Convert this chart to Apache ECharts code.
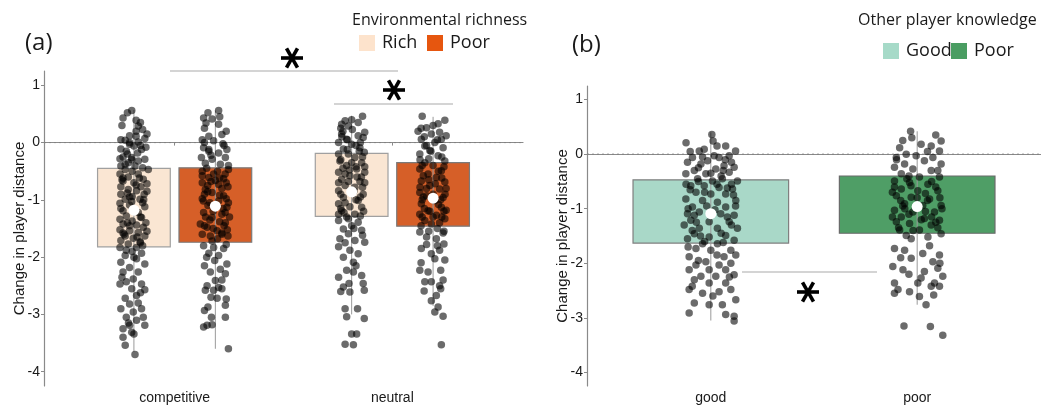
<!DOCTYPE html>
<html>
<head>
<meta charset="utf-8">
<style>
  html, body { margin: 0; padding: 0; background: #fff; }
  #chart { width: 1041px; height: 405px; }
</style>
<script src="https://cdn.jsdelivr.net/npm/echarts@6/dist/echarts.min.js"></script>
</head>
<body>
<div id="chart"></div>
<script>
// panel (a): context x environmental richness
const contexts = ['competitive', 'neutral'];
const richness = ['Rich', 'Poor'];
// [upper, lower] edges of the boxes, per context
const richBox = [[-0.45, -1.82], [-0.19, -1.29]];
const poorBox = [[-0.44, -1.74], [-0.35, -1.46]];
const richMedian = [-1.18, -0.86];
const poorMedian = [-1.11, -0.97];
const richWhisker = [[0.57, -3.65], [0.47, -3.0]];
const poorWhisker = [[0.56, -3.6], [0.45, -2.85]];

// panel (b): other player knowledge
const knowledge = ['good', 'poor'];
const knowBox = [[-0.47, -1.63], [-0.40, -1.45]];
const knowMedian = [-1.09, -0.96];
const knowWhisker = [[0.40, -3.05], [0.42, -2.76]];

const yTicks = [-4, -3, -2, -1, 0, 1];
const refLevel = 0;

// jittered raw points: [jitter, value]
const compRichPts = [[-0.03,0.52],[-0.01,0.56],[-0.05,0.43],[0.01,0.39],[0.02,0.29],[0.04,0.23],[0.01,0.2],[-0.02,0.12],[0.01,0.11],[-0.06,0.05],[-0.04,0.04],[0.05,0.07],[0.02,0.01],[-0.02,-0.03],[0,-0.06],[-0.06,-0.11],[0.035,-0.12],[-0.035,-0.15],[0.017,-0.18],[-0.05,-0.25],[-0.064,-0.28],[-0.01,-0.26],[0.05,-0.29],[0.02,-0.32],[-0.026,-0.35],[-0.06,-0.41],[0.005,-0.41],[0.04,-0.44],[-0.04,-0.47],[0.066,-0.47],[-0.008,-0.5],[-0.064,-0.55],[0.02,-0.55],[-0.026,-0.6],[0.043,-0.64],[-0.05,-0.67],[0,-0.7],[-0.06,-0.77],[0.032,-0.77],[-0.026,-0.82],[0.012,-0.84],[-0.06,-0.9],[0.047,-0.9],[-0.008,-0.94],[-0.04,-0.99],[0.028,-0.99],[-0.064,-1.06],[-0.02,-1.09],[0.05,-1.12],[-0.05,-1.19],[0.02,-1.22],[-0.035,-1.28],[-0.064,-1.34],[0.035,-1.31],[-0.008,-1.37],[-0.05,-1.42],[0.012,-1.44],[0.043,-1.48],[-0.064,-1.52],[-0.02,-1.54],[0.02,-1.57],[-0.04,-1.63],[0.05,-1.63],[-0.003,-1.67],[-0.06,-1.71],[0.028,-1.73],[-0.026,-1.77],[-0.064,-1.83],[0.012,-1.83],[-0.008,-1.9],[0.035,-1.93],[-0.04,-1.97],[-0.06,-2.09],[0.012,-2.03],[0.05,-2.12],[-0.02,-2.18],[0.02,-2.26],[-0.05,-2.26],[-0.003,-2.38],[-0.035,-2.43],[0.035,-2.47],[-0.064,-2.47],[-0.01,-2.55],[0.05,-2.57],[0.012,-2.67],[-0.04,-2.72],[-0.02,-2.82],[0.02,-2.8],[-0.06,-2.9],[0.035,-2.9],[-0.003,-2.96],[-0.035,-3.05],[0.043,-3.05],[0.012,-3.1],[-0.02,-3.19],[-0.05,-3.25],[0.05,-3.19],[-0.01,-3.31],[-0.05,-3.4],[0,-3.34],[-0.04,-3.54],[0.005,-3.7],[-0.03,-0.2],[0.03,-0.05],[-0.05,-0.62],[0.06,-0.72],[-0.02,-0.95],[0.04,-1.05],[-0.03,-1.4],[0.06,-1.55],[-0.045,-1.6],[0.03,-1.75],[0.06,0.15],[-0.01,-0.3],[-0.055,0.3],[0.03,0.35],[-0.02,0.0],[0.055,-0.08],[-0.04,-0.38],[0.025,-0.62],[-0.055,-0.65],[0.01,-0.74],[0.06,-0.85],[-0.03,-0.88],[0.045,-1.0],[-0.01,-1.03],[-0.06,-1.15],[0.03,-1.3],[-0.02,-1.45],[0.055,-1.4],[-0.05,-1.58],[0.015,-1.65],[0.04,-1.8],[-0.035,-1.88],[0.0,-2.0],[-0.055,-2.35],[0.03,-2.62],[-0.025,-3.15]];
const compPoorPts = [[-0.034,0.52],[0.015,0.56],[-0.054,0.43],[-0.015,0.41],[-0.043,0.34],[0.015,0.32],[0.05,0.2],[0.03,0.14],[-0.03,0.11],[-0.06,0.05],[-0.008,0.03],[0.053,-0.12],[-0.054,-0.09],[-0.03,-0.12],[0.015,-0.18],[-0.064,-0.26],[0.046,-0.26],[-0.015,-0.29],[-0.046,-0.36],[0.023,-0.38],[0.06,-0.47],[-0.06,-0.5],[-0.008,-0.55],[-0.03,-0.61],[0.038,-0.63],[-0.06,-0.7],[0.015,-0.73],[0.058,-0.77],[-0.046,-0.82],[-0.015,-0.87],[0.038,-0.93],[-0.06,-0.98],[0.015,-1.02],[-0.034,-1.1],[0.053,-1.13],[-0.054,-1.22],[0.03,-1.25],[-0.015,-1.31],[-0.069,-1.42],[0.046,-1.4],[-0.038,-1.48],[0.008,-1.54],[0.03,-1.6],[-0.023,-1.63],[0.058,-1.63],[-0.054,-1.8],[-0.008,-1.83],[0.038,-1.85],[-0.03,-1.93],[0.015,-1.97],[-0.003,-2.06],[0.053,-2.12],[-0.05,-2.15],[0.023,-2.21],[-0.023,-2.26],[0.046,-2.29],[0,-2.41],[-0.038,-2.5],[0.015,-2.53],[-0.046,-2.58],[-0.008,-2.58],[0.03,-2.55],[0.008,-2.72],[0.05,-2.73],[0.046,-2.84],[-0.05,-2.93],[-0.034,-2.87],[-0.018,-3.05],[0.046,-3.05],[-0.054,-3.22],[-0.038,-3.19],[-0.015,-3.18],[0.06,-3.6],[-0.04,-0.45],[0.01,-0.5],[0.045,-0.55],[-0.02,-0.68],[0.03,-0.8],[-0.05,-0.9],[0.05,-0.98],[-0.025,-1.05],[0.035,-1.15],[-0.045,-1.3],[0.02,-1.38],[-0.01,-1.5],[0.055,-1.52],[-0.06,-1.6],[0.01,-1.68],[-0.03,-0.15],[0.04,-0.05],[-0.05,0.0],[0.02,-0.62],[-0.035,-0.75],[0.06,-1.05],[-0.01,-1.2],[0.04,-1.45],[0.02,0.45],[-0.05,0.25],[0.035,-0.02],[-0.02,-0.22],[0.06,-0.4],[-0.06,-0.58],[0.0,-0.66],[0.05,-0.7],[-0.035,-0.86],[0.02,-0.92],[-0.055,-1.02],[0.045,-1.22],[-0.025,-1.35],[0.065,-1.3],[-0.05,-1.45],[0.03,-1.58],[-0.015,-1.72],[0.05,-1.78],[-0.04,-2.0],[0.03,-2.4],[-0.02,-2.7]];
const neutRichPts = [[0.05,0.46],[-0.03,0.38],[-0.015,0.29],[-0.046,0.32],[0.003,0.23],[-0.046,0.15],[0.03,0.12],[0.053,0.09],[-0.023,0.06],[-0.06,0],[0,-0.03],[0.038,-0.09],[-0.038,-0.11],[0.058,-0.17],[-0.015,-0.2],[0.015,-0.26],[-0.054,-0.32],[0.046,-0.35],[-0.023,-0.4],[0.023,-0.46],[-0.06,-0.52],[0.06,-0.52],[-0.008,-0.58],[-0.046,-0.64],[0.038,-0.68],[-0.03,-0.75],[0.015,-0.78],[-0.06,-0.84],[0.053,-0.9],[-0.038,-0.96],[0.03,-1.01],[-0.06,-1.07],[-0.008,-1.12],[0.046,-1.13],[-0.046,-1.19],[0.015,-1.25],[-0.023,-1.3],[-0.06,-1.36],[0.03,-1.39],[0,-1.45],[-0.038,-1.51],[0.046,-1.53],[-0.015,-1.59],[-0.054,-1.68],[0.015,-1.71],[0.06,-1.74],[-0.06,-1.82],[-0.008,-1.88],[0.03,-1.94],[-0.038,-2.0],[0.008,-2.09],[-0.023,-2.23],[0.008,-2.26],[0.046,-2.32],[-0.06,-2.35],[-0.038,-2.52],[-0.012,-2.46],[0.053,-2.46],[-0.008,-2.61],[0.058,-2.58],[-0.03,-2.9],[0.027,-2.9],[-0.023,-3.04],[0.058,-3.07],[0,-3.34],[0.023,-3.34],[-0.03,-3.52],[0.008,-3.53],[-0.04,0.2],[0.04,0.0],[-0.02,-0.12],[0.05,-0.25],[-0.05,-0.3],[0.02,-0.42],[-0.03,-0.55],[0.045,-0.6],[-0.06,-0.7],[0.01,-0.85],[0.04,-0.95],[-0.03,-1.05],[0.055,-1.2],[-0.015,-1.33],[0.02,-0.05],[-0.045,0.1],[0.03,0.35],[-0.01,-0.48],[0.05,-0.78],[-0.05,-1.15],[0.0,0.4],[-0.05,0.25],[0.06,0.18],[-0.02,0.05],[0.035,-0.15],[-0.06,-0.2],[0.0,-0.35],[0.06,-0.42],[-0.04,-0.45],[0.025,-0.6],[-0.015,-0.68],[0.06,-0.7],[-0.05,-0.9],[0.02,-1.0],[-0.035,-1.22],[0.04,-1.28],[-0.06,-1.25],[0.01,-1.5],[0.05,-1.62],[-0.03,-1.75],[0.02,-2.15],[-0.05,-2.6]];
const neutPoorPts = [[-0.05,0.46],[0.054,0.39],[0.023,0.33],[-0.03,0.26],[-0.069,0.2],[-0.008,0.15],[0.038,0.06],[-0.054,0.06],[0.008,0],[-0.038,-0.06],[0.046,-0.09],[-0.015,-0.14],[-0.061,-0.2],[0.023,-0.23],[0.054,-0.32],[-0.038,-0.35],[0,-0.4],[-0.061,-0.46],[0.038,-0.49],[-0.023,-0.55],[0.015,-0.61],[-0.054,-0.67],[0.054,-0.69],[-0.015,-0.75],[0.03,-0.81],[-0.061,-0.87],[-0.03,-0.93],[0.046,-0.96],[0.008,-1.01],[-0.054,-1.07],[0.038,-1.13],[-0.023,-1.19],[-0.061,-1.25],[0.015,-1.27],[0.054,-1.33],[-0.038,-1.36],[-0.008,-1.42],[-0.061,-1.56],[0.046,-1.58],[-0.03,-1.65],[0.015,-1.68],[-0.054,-1.85],[0.05,-1.77],[-0.008,-1.94],[0.03,-1.88],[0.008,-2.03],[0.054,-2.05],[-0.061,-2.23],[-0.023,-2.26],[0.035,-2.23],[-0.038,-2.43],[-0.008,-2.43],[0.046,-2.4],[0.035,-2.55],[-0.041,-2.59],[0.015,-2.67],[-0.008,-2.76],[0.023,-2.87],[0.008,-2.96],[0.046,-3.03],[0.038,-3.53],[-0.04,0.1],[0.03,0.18],[-0.02,-0.28],[0.05,-0.42],[-0.045,-0.58],[0.01,-0.72],[-0.03,-0.8],[0.055,-0.9],[-0.05,-1.0],[0.025,-1.08],[-0.015,-1.2],[0.04,-1.3],[-0.055,-1.45],[0.02,-1.5],[-0.03,-0.05],[0.04,-0.62],[-0.045,-0.95],[0.05,-1.2],[-0.02,-1.55],[0.02,0.05],[-0.06,-0.3],[0.0,0.3],[-0.055,0.25],[0.06,0.12],[-0.01,-0.15],[0.04,-0.25],[-0.05,-0.4],[0.025,-0.5],[-0.02,-0.65],[0.06,-0.8],[-0.06,-0.78],[0.0,-0.9],[0.035,-1.0],[-0.04,-1.15],[0.06,-1.18],[0.0,-1.3],[-0.05,-1.3],[0.03,-1.4],[0.05,-1.55],[-0.03,-1.78],[0.02,-1.8],[-0.055,-2.1],[0.03,-2.5]];
const goodPts = [[0.005,0.36],[-0.12,0.21],[0.011,0.24],[0.072,0.15],[-0.056,0.06],[-0.032,0.09],[0.016,-0.03],[0.12,0.06],[-0.089,-0.06],[0.04,-0.06],[0.089,-0.03],[-0.113,-0.15],[-0.048,-0.18],[-0.016,-0.12],[0.064,-0.21],[0.113,-0.24],[-0.08,-0.3],[0.024,-0.27],[-0.121,-0.36],[-0.024,-0.36],[0.089,-0.33],[-0.064,-0.45],[0.008,-0.49],[0.056,-0.45],[0.129,-0.49],[-0.097,-0.58],[-0.032,-0.58],[0.04,-0.61],[0.105,-0.64],[-0.072,-0.7],[0,-0.73],[0.072,-0.73],[-0.121,-0.82],[-0.04,-0.85],[0.032,-0.88],[0.121,-0.85],[-0.089,-0.97],[0.072,-0.97],[-0.113,-1.09],[-0.056,-1.06],[0.048,-1.09],[0.113,-1.12],[-0.097,-1.21],[-0.008,-1.24],[0.089,-1.24],[-0.129,-1.3],[-0.056,-1.36],[0.032,-1.36],[0.129,-1.36],[-0.08,-1.46],[-0.008,-1.52],[0.072,-1.49],[-0.113,-1.55],[0.113,-1.58],[-0.04,-1.64],[0.032,-1.64],[-0.072,-1.73],[0,-1.76],[0.097,-1.76],[-0.105,-1.88],[0.064,-1.88],[0.121,-1.85],[-0.024,-1.97],[-0.072,-2.03],[0.04,-2.03],[0.097,-2.0],[-0.105,-2.12],[-0.008,-2.12],[0.072,-2.12],[-0.048,-2.24],[0.024,-2.24],[0.113,-2.21],[-0.08,-2.3],[-0.008,-2.36],[0.072,-2.36],[-0.105,-2.48],[-0.04,-2.55],[0.04,-2.52],[0.097,-2.48],[-0.08,-2.73],[-0.008,-2.76],[0.056,-2.76],[0.121,-2.67],[-0.105,-2.91],[0.072,-2.94],[0.113,-3.06],[0.113,-2.97],[-0.06,-0.5],[0.03,-0.55],[-0.1,-0.65],[0.11,-0.75],[-0.02,-0.95],[0.08,-1.15],[-0.07,-1.25],[0.05,-1.45],[-0.11,-1.0],[0,-0.35],[-0.04,-0.05],[0.07,-0.1],[-0.09,-1.4],[0.1,-0.55],[-0.03,-1.6],[0.06,-0.3],[-0.1,0.05],[0.03,0.15],[0.1,-0.15],[-0.06,-0.25],[0.05,-0.4],[-0.12,-0.55],[0.08,-0.62],[-0.03,-0.7],[0.12,-0.95],[-0.08,-1.12],[0.02,-1.02],[0.1,-1.3],[-0.05,-1.5],[0.06,-1.62],[-0.11,-1.7],[0.03,-1.85],[-0.06,-1.95],[0.09,-2.25],[-0.09,-2.42],[0.01,-2.6]];
const poorKnowPts = [[-0.032,0.42],[-0.026,0.3],[0.116,0.24],[0.068,0.15],[-0.085,0.12],[0.019,0.18],[0.108,0.06],[-0.053,0],[-0.005,-0.03],[-0.101,-0.06],[0.076,-0.06],[0.035,-0.12],[-0.061,-0.18],[0.116,-0.18],[-0.11,-0.24],[-0.021,-0.27],[0.068,-0.3],[-0.077,-0.36],[0.011,-0.42],[0.108,-0.42],[-0.11,-0.49],[-0.037,-0.52],[0.052,-0.55],[-0.077,-0.64],[0.003,-0.67],[0.1,-0.67],[-0.101,-0.76],[-0.029,-0.79],[0.06,-0.82],[-0.061,-0.91],[0.027,-0.94],[0.116,-0.94],[-0.11,-1.03],[-0.021,-1.06],[0.084,-1.06],[-0.077,-1.15],[0.035,-1.18],[-0.101,-1.24],[0.108,-1.21],[-0.037,-1.27],[0.068,-1.3],[-0.085,-1.39],[0.011,-1.39],[0.116,-1.46],[-0.053,-1.49],[0.052,-1.52],[-0.029,-1.55],[-0.11,-1.73],[-0.061,-1.76],[0.027,-1.82],[0.108,-1.85],[-0.029,-1.91],[0.076,-1.97],[-0.118,-2.06],[-0.069,-2.12],[0.035,-2.15],[0.1,-2.09],[0.124,-2.24],[0.019,-2.27],[-0.11,-2.36],[0.003,-2.36],[0.084,-2.36],[0.068,-2.42],[0.108,-2.42],[-0.093,-2.48],[-0.037,-2.52],[-0.11,-2.55],[0.011,-2.61],[0.043,-2.76],[-0.064,-3.15],[0.064,-3.16],[0.124,-3.32],[-0.05,-0.45],[0.09,-0.6],[-0.12,-0.7],[0.04,-0.72],[-0.08,-0.85],[0.12,-1.0],[-0.04,-1.1],[0.07,-1.15],[-0.09,-1.35],[0.02,-1.2],[0.1,-1.35],[-0.03,-0.58],[-0.06,-1.0],[0.05,-0.85],[0.09,0.35],[-0.07,0.25],[0.05,0.05],[-0.1,-0.1],[0.1,-0.3],[-0.04,-0.4],[0.07,-0.5],[-0.11,-0.6],[0.0,-0.8],[0.11,-0.8],[-0.07,-0.95],[0.04,-1.05],[-0.12,-1.15],[0.09,-1.25],[-0.02,-1.4],[0.06,-1.68],[-0.08,-1.9],[0.11,-2.0],[-0.04,-2.2],[0.08,-2.58]];

const richFill = '#fae6d3';
const poorFill = '#d65f28';
const goodFill = '#a9d8c8';
const poorKFill = '#4f9e66';
const axisGrey = '#8a8a8a';
const dodge = 0.187;
const halfA = 0.167;
const halfB = 0.377;
const ptColor = 'rgba(0,0,0,0.58)';
const uiFont = '"Open Sans", "Noto Sans", sans-serif';
const axisFont = '"Liberation Sans", Arial, sans-serif';

function boxRender(halfW, fill, stroke) {
  return function (params, api) {
    const x = api.value(0);
    const a = api.coord([x - halfW, api.value(1)]);
    const b = api.coord([x + halfW, api.value(2)]);
    const w1 = api.coord([x, api.value(3)]);
    const w2 = api.coord([x, api.value(4)]);
    return {
      type: 'group',
      children: [
        { type: 'rect', shape: { x: a[0], y: a[1], width: b[0] - a[0], height: b[1] - a[1] },
          style: { fill: fill, stroke: stroke, lineWidth: 1.2 } },
        { type: 'line', shape: { x1: w1[0], y1: w1[1], x2: w2[0], y2: w2[1] },
          style: { stroke: '#9a9a9a', lineWidth: 1 } }
      ]
    };
  };
}

function boxData(boxes, whiskers, shift) {
  return boxes.map((b, i) => [i + 1 + shift, b[0], b[1], whiskers[i][0], whiskers[i][1]]);
}

function pts(list, center) {
  return list.map(p => [center + p[0], p[1]]);
}

function xAxisFor(grid, cats) {
  return {
    gridIndex: grid, type: 'value', min: 0.4, max: 2.6,
    splitLine: { show: false },
    axisLine: { show: true, lineStyle: { color: axisGrey, width: 1.2 } },
    axisTick: { show: true, customValues: [1, 2], length: 3, lineStyle: { color: axisGrey } },
    axisLabel: { customValues: [1, 2], formatter: v => cats[Math.round(v) - 1],
      fontSize: 14, color: '#1a1a1a', margin: 5, fontFamily: axisFont }
  };
}

function yAxisFor(grid) {
  return {
    gridIndex: grid, type: 'value', min: -4.25, max: 1.25,
    name: 'Change in player distance', nameLocation: 'middle', nameGap: 17, nameRotate: 90,
    nameMoveOverlap: false,
    nameTextStyle: { fontSize: 15, color: '#1a1a1a', fontFamily: axisFont },
    splitLine: { show: false },
    axisLine: { show: true, lineStyle: { color: axisGrey, width: 1.2 } },
    axisTick: { show: true, customValues: yTicks, length: 3, lineStyle: { color: axisGrey } },
    axisLabel: { customValues: yTicks, fontSize: 14, color: '#1a1a1a', margin: 4, fontFamily: axisFont }
  };
}

function zeroSeries(xi) {
  return { type: 'line', xAxisIndex: xi, yAxisIndex: xi, data: [[0.4, refLevel], [2.6, refLevel]],
    symbol: 'none', silent: true, z: 2, lineStyle: { type: [2, 3], color: '#808080', width: 1 } };
}

function scatter(xi, data) {
  return {
    type: 'scatter', xAxisIndex: xi, yAxisIndex: xi, data: data,
    symbolSize: 7.5, itemStyle: { color: ptColor, opacity: 1 }, z: 3, silent: true
  };
}

function medians(xi, data) {
  return { type: 'scatter', xAxisIndex: xi, yAxisIndex: xi, data: data,
    symbolSize: 11, itemStyle: { color: '#fff', opacity: 1 }, z: 5, silent: true };
}

function asterisk(cx, cy) {
  const r = 11;
  const arms = [0, Math.PI / 3, 2 * Math.PI / 3].map(a => ({
    type: 'line',
    shape: { x1: -r * Math.cos(a), y1: -r * Math.sin(a), x2: r * Math.cos(a), y2: r * Math.sin(a) },
    style: { stroke: '#000', lineWidth: 3.6 }
  }));
  return { type: 'group', x: cx, y: cy, children: arms };
}

function sigLine(x1, x2, y) {
  return { type: 'line', shape: { x1: x1, y1: y, x2: x2, y2: y }, style: { stroke: '#aaa', lineWidth: 1.2 } };
}

function legendKey(x, y, fill, label) {
  return [
    { type: 'rect', shape: { x: x, y: y, width: 16, height: 16 }, style: { fill: fill } },
    { type: 'text', x: x + 23, y: y + 8, style: { text: label, font: '18px ' + uiFont, fill: '#1a1a1a', textVerticalAlign: 'middle' } }
  ];
}

const chart = echarts.init(document.getElementById('chart'));
chart.setOption({
  animation: false,
  backgroundColor: '#fff',
  grid: [
    { left: 44, top: 71, width: 479, height: 316 },
    { left: 587, top: 86, width: 454, height: 303 }
  ],
  xAxis: [xAxisFor(0, contexts), xAxisFor(1, knowledge)],
  yAxis: [yAxisFor(0), yAxisFor(1)],
  series: [
    { type: 'custom', name: richness[0], xAxisIndex: 0, yAxisIndex: 0, z: 1, silent: true,
      renderItem: boxRender(halfA, richFill, '#a0a0a0'), data: boxData(richBox, richWhisker, -dodge) },
    { type: 'custom', name: richness[1], xAxisIndex: 0, yAxisIndex: 0, z: 1, silent: true,
      renderItem: boxRender(halfA, poorFill, '#7a7a7a'), data: boxData(poorBox, poorWhisker, dodge) },
    { type: 'custom', xAxisIndex: 1, yAxisIndex: 1, z: 1, silent: true,
      renderItem: boxRender(halfB, goodFill, '#7f7f7f'), data: boxData([knowBox[0]], [knowWhisker[0]], 0) },
    { type: 'custom', xAxisIndex: 1, yAxisIndex: 1, z: 1, silent: true,
      renderItem: boxRender(halfB, poorKFill, '#6a6a6a'), data: boxData([knowBox[1]], [knowWhisker[1]], 1) },
    zeroSeries(0),
    zeroSeries(1),
    scatter(0, pts(compRichPts, 1 - dodge)),
    scatter(0, pts(compPoorPts, 1 + dodge)),
    scatter(0, pts(neutRichPts, 2 - dodge)),
    scatter(0, pts(neutPoorPts, 2 + dodge)),
    scatter(1, pts(goodPts, 1)),
    scatter(1, pts(poorKnowPts, 2)),
    medians(0, [[1 - dodge, richMedian[0]], [2 - dodge, richMedian[1]], [1 + dodge, poorMedian[0]], [2 + dodge, poorMedian[1]]]),
    medians(1, [[1, knowMedian[0]], [2, knowMedian[1]]])
  ],
  graphic: [
    { type: 'text', x: 25, y: 43, style: { text: '(a)', font: '24px ' + uiFont, fill: '#1a1a1a', textVerticalAlign: 'middle' } },
    { type: 'text', x: 572, y: 45, style: { text: '(b)', font: '24px ' + uiFont, fill: '#1a1a1a', textVerticalAlign: 'middle' } },
    { type: 'text', x: 352, y: 20, style: { text: 'Environmental richness', font: '16px ' + uiFont, fill: '#1a1a1a', textVerticalAlign: 'middle' } },
    ...legendKey(359, 35, '#fde3cc', richness[0]),
    ...legendKey(427, 35, '#e6560f', richness[1]),
    { type: 'text', x: 858, y: 20, style: { text: 'Other player knowledge', font: '16px ' + uiFont, fill: '#1a1a1a', textVerticalAlign: 'middle' } },
    ...legendKey(883, 43, '#a6dac8', 'Good'),
    ...legendKey(951, 43, '#4a9d62', 'Poor'),
    sigLine(170, 398, 71),
    sigLine(334, 453, 104),
    sigLine(742, 877, 272),
    asterisk(292, 58),
    asterisk(394, 90),
    asterisk(808, 292)
  ]
});
</script>
</body>
</html>
